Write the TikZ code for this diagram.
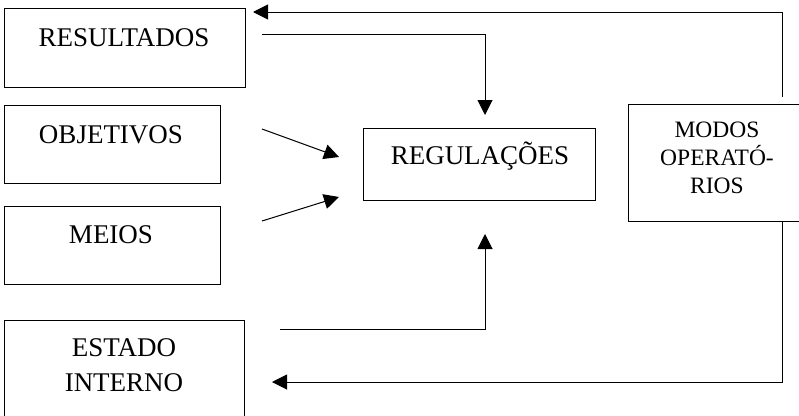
\documentclass[tikz,border=0pt]{standalone}
\usepackage{fontspec}
\setmainfont{Liberation Serif}
\usetikzlibrary{arrows.meta}
\tikzset{
  box/.style={draw=black, line width=1pt, rectangle, inner sep=0pt, fill=none},
  lbl/.style={anchor=base, inner sep=0pt, font=\fontsize{27}{32}\selectfont},
  lbls/.style={anchor=base, inner sep=0pt, font=\fontsize{23.5}{28}\selectfont},
  conn/.style={draw=black, line width=1pt},
  arr/.style={conn, -{Triangle[length=15pt,width=15pt]}}
}
\begin{document}
\begin{tikzpicture}[x=1pt,y=-1pt]
\clip (0,0) rectangle (799,415);
\fill[white] (0,0) rectangle (799,415);
% boxes
\node[box, minimum width=241pt, minimum height=79pt] (res) at (124.5,47.5) {};
\node[box, minimum width=216pt, minimum height=78pt] (obj) at (112,144) {};
\node[box, minimum width=216pt, minimum height=78pt] (mei) at (112,245) {};
\node[box, minimum width=240pt, minimum height=100pt] (est) at (124,370) {};
\node[box, minimum width=232pt, minimum height=72pt] (reg) at (479,164) {};
\node[box, minimum width=178pt, minimum height=117pt] (mod) at (717,162.5) {};
% labels
\node[lbl] (tres) at (124,46) {RESULTADOS};
\node[lbl] (tobj) at (111,143) {OBJETIVOS};
\node[lbl] (tmei) at (111,243) {MEIOS};
\node[lbl] (test1) at (124,356) {ESTADO};
\node[lbl] (test2) at (124,391) {INTERNO};
\node[lbl] (treg) at (480,164) {REGULAÇÕES};
\node[lbls] (tmod1) at (717,137) {MODOS};
\node[lbls] (tmod2) at (717,165) {OPERATÓ-};
\node[lbls] (tmod3) at (717,193) {RIOS};
% connector end points
\coordinate (a1) at (782,97);
\coordinate (a2) at (253,12);
\coordinate (b1) at (262,34);
\coordinate (b2) at (485,115);
\coordinate (c1) at (262,129);
\coordinate (c2) at (339,157);
\coordinate (d1) at (262,221);
\coordinate (d2) at (339,197);
\coordinate (e1) at (280,329);
\coordinate (e2) at (485,234);
\coordinate (f1) at (782,221);
\coordinate (f2) at (272,382);
% connectors
\draw[arr] (a1) |- (a2);
\draw[arr] (b1) -| (b2);
\draw[arr] (c1) -- (c2);
\draw[arr] (d1) -- (d2);
\draw[arr] (e1) -| (e2);
\draw[arr] (f1) |- (f2);
\end{tikzpicture}
\end{document}
